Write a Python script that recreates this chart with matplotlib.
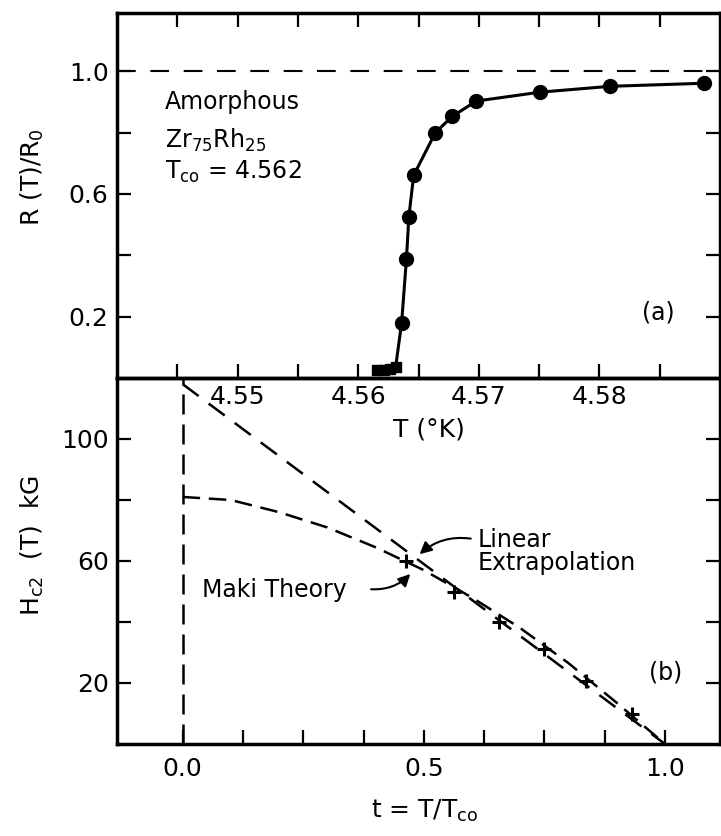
import matplotlib
matplotlib.use('Agg')
import matplotlib.pyplot as plt

# (a) resistive transition, T in K
T_sq = [4.5616, 4.5621, 4.5626, 4.5631]
R_sq = [0.025, 0.025, 0.03, 0.035]
T_pts = [4.5636, 4.5640, 4.5642, 4.5646, 4.5664, 4.5678, 4.5698, 4.5751, 4.5809, 4.5887]
R_pts = [0.179, 0.388, 0.525, 0.661, 0.80, 0.853, 0.903, 0.932, 0.951, 0.961]

T_ticks = [4.545, 4.55, 4.555, 4.56, 4.565, 4.57, 4.575, 4.58, 4.585]
T_labels = ['', '4.55', '', '4.56', '', '4.57', '', '4.58', '']
R_ticks = [0.2, 0.4, 0.6, 0.8, 1.0]
R_labels = ['0.2', '', '0.6', '', '1.0']

# (b) upper critical field vs reduced temperature
t_lin = [0.0, 1.0]
H_lin = [118, 0]
t_maki = [0.0, 0.1, 0.2, 0.3, 0.4, 0.5, 0.6, 0.7, 0.8, 0.9, 1.0]
H_maki = [81, 80, 76, 71, 64.5, 57, 48, 38, 26.5, 13.5, 0]
t_data = [0.464, 0.563, 0.656, 0.75, 0.836, 0.932]
H_data = [60, 50, 40, 31, 20.5, 10]

t_ticks = [0, 0.125, 0.25, 0.375, 0.5, 0.625, 0.75, 0.875, 1.0]
t_labels = ['0.0', '', '', '', '0.5', '', '', '', '1.0']
H_ticks = [20, 40, 60, 80, 100]
H_labels = ['20', '', '60', '', '100']

plt.rcParams['font.family'] = 'DejaVu Sans'
plt.rcParams['mathtext.fontset'] = 'dejavusans'

W, Hpx = 721, 836
fig = plt.figure(figsize=(W / 100, Hpx / 100), dpi=100)
left = 117 / W
width = (720 - 117) / W
ax2 = fig.add_axes([left, 1 - 744 / Hpx, width, (744 - 378) / Hpx])
ax1 = fig.add_axes([left, 1 - 378 / Hpx, width, (378 - 13) / Hpx])
# top panel drawn above the lower one so its tick labels stay visible
ax1.set_zorder(3)
ax1.patch.set_alpha(0)

for ax in (ax1, ax2):
    for s in ax.spines.values():
        s.set_linewidth(2.5)
    ax.tick_params(direction='in', length=10, width=1.6, labelsize=18,
                   right=True)

# ---- panel (a)
ax1.axhline(1.0, color='black', lw=1.5, dashes=(9, 7))
ax1.plot(T_sq + T_pts, R_sq + R_pts, color='black', lw=2.2)
ax1.plot(T_sq, R_sq, 's', color='black', ms=7)
ax1.plot(T_pts, R_pts, 'o', color='black', ms=10)
ax1.set_xlim(4.54, 4.59)
ax1.set_ylim(0, 1.19)
ax1.set_xticks(T_ticks)
ax1.set_xticklabels(T_labels)
ax1.set_yticks(R_ticks)
ax1.set_yticklabels(R_labels)
ax1.tick_params(axis='x', top=True, pad=5)
ax1.tick_params(axis='y', pad=6)
ax1.text(4.5440, 0.899, 'Amorphous', fontsize=17, va='center')
ax1.text(4.5440, 0.775, r'Zr$_{75}$Rh$_{25}$', fontsize=17, va='center')
ax1.text(4.5440, 0.671, r'T$_{\mathrm{co}}$ = 4.562', fontsize=17, va='center')
ax1.text(4.5849, 0.215, '(a)', fontsize=17, ha='center', va='center')

# ---- panel (b)
ax2.axvline(0.0, color='black', lw=1.8, dashes=(8, 4))
ax2.plot(t_lin, H_lin, color='black', lw=1.8, dashes=(8, 5))
ax2.plot(t_maki, H_maki, color='black', lw=1.8, dashes=(7, 3.5))
ax2.plot(t_data, H_data, '+', color='black', ms=10, mew=2.2)
ax2.set_xlim(-0.136, 1.114)
ax2.set_ylim(0, 120)
ax2.set_xticks(t_ticks)
ax2.set_xticklabels(t_labels)
ax2.set_yticks(H_ticks)
ax2.set_yticklabels(H_labels)
ax2.tick_params(axis='x', pad=9)
ax2.tick_params(axis='y', pad=6)

ax2.text(0.612, 63.0, 'Linear\nExtrapolation', fontsize=17, va='center',
         linespacing=0.95)
ax2.annotate('', xy=(0.487, 61.6), xytext=(0.603, 67.2),
             arrowprops=dict(arrowstyle='-|>', color='black', lw=1.5,
                             mutation_scale=18,
                             connectionstyle='arc3,rad=0.25'))
ax2.text(0.041, 50.5, 'Maki Theory', fontsize=17, va='center')
ax2.annotate('', xy=(0.476, 56.4), xytext=(0.385, 50.8),
             arrowprops=dict(arrowstyle='-|>', color='black', lw=1.5,
                             mutation_scale=18,
                             connectionstyle='arc3,rad=0.25'))
ax2.text(1.002, 23.6, '(b)', fontsize=17, ha='center', va='center')

# axis labels
fig.text(32 / W, 1 - 177 / Hpx, r'R (T)/R$_0$', rotation=90, fontsize=18,
         ha='center', va='center')
fig.text(32 / W, 1 - 546 / Hpx, r'H$_{\mathrm{c2}}$  (T)  kG', rotation=90,
         fontsize=18, ha='center', va='center')
fig.text(429 / W, 1 - 429 / Hpx, u'T (\u00b0K)', fontsize=18,
         ha='center', va='center')
fig.text(425 / W, 1 - 811 / Hpx, r't = T/T$_{\mathrm{co}}$', fontsize=18,
         ha='center', va='center')

fig.savefig('out.png', dpi=100)
